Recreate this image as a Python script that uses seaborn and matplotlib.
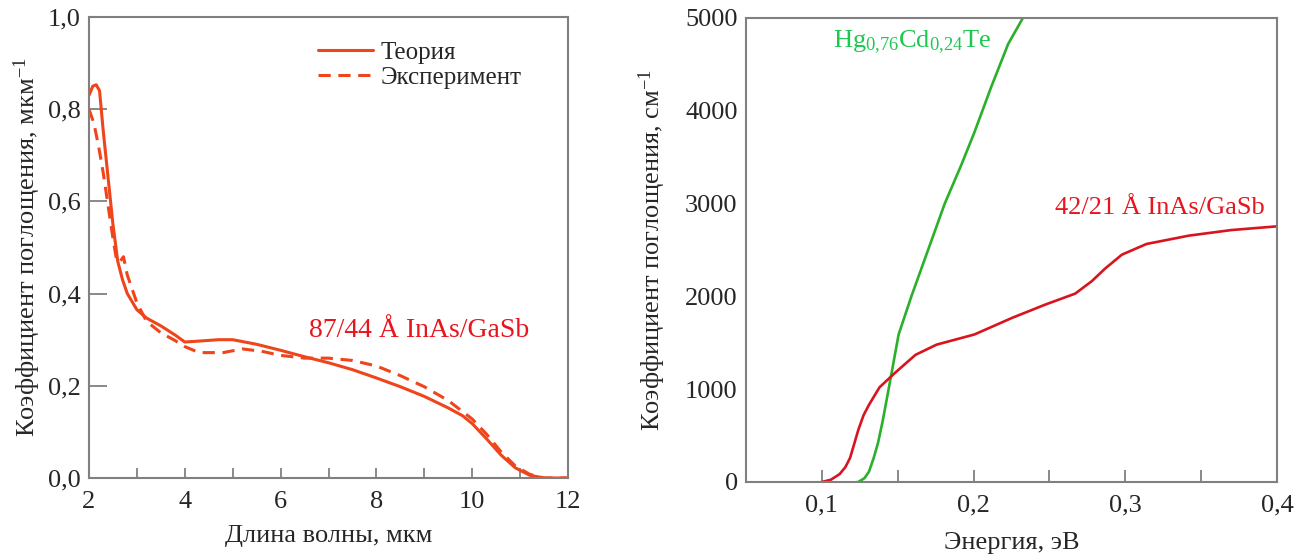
import matplotlib
matplotlib.use("Agg")
import matplotlib.pyplot as plt
import matplotlib.ticker as mticker
import seaborn as sns
import pandas as pd

# ---- Left panel data (wavelength, µm vs absorption, µm^-1) ----
theory_x = [2.0, 2.08, 2.15, 2.22, 2.3, 2.4, 2.5, 2.6, 2.7, 2.8, 3.0, 3.2, 3.5, 3.8, 4.0,
            4.3, 4.7, 5.0, 5.5, 6.0, 6.5, 7.0, 7.5, 8.0, 8.5, 9.0, 9.5, 9.8, 10.0,
            10.3, 10.6, 10.9, 11.2, 11.5, 12.0]
theory_y = [0.83, 0.85, 0.853, 0.84, 0.75, 0.65, 0.55, 0.47, 0.43, 0.40, 0.365, 0.347, 0.33,
            0.31, 0.295, 0.297, 0.30, 0.30, 0.29, 0.277, 0.263, 0.25, 0.235, 0.217,
            0.198, 0.177, 0.152, 0.135, 0.118, 0.085, 0.05, 0.022, 0.006, 0.0, 0.0]

exp_x = [2.0, 2.1, 2.2, 2.3, 2.4, 2.5, 2.58, 2.65, 2.72, 2.8, 3.0, 3.2, 3.5, 3.8, 4.0,
         4.3, 4.8, 5.2, 5.6, 6.0, 6.5, 7.0, 7.5, 8.0, 8.5, 9.0, 9.5, 10.0,
         10.3, 10.6, 10.9, 11.2, 11.5, 12.0]
exp_y = [0.80, 0.77, 0.72, 0.66, 0.59, 0.52, 0.47, 0.47, 0.48, 0.44, 0.38, 0.34, 0.315,
         0.298, 0.285, 0.272, 0.272, 0.28, 0.275, 0.266, 0.26, 0.26, 0.255, 0.243,
         0.222, 0.198, 0.168, 0.128, 0.095, 0.057, 0.026, 0.008, 0.0, 0.0]

# ---- Right panel data (energy, eV vs absorption, cm^-1) ----
hgcdte_x = [0.113, 0.118, 0.124, 0.128, 0.131, 0.134, 0.137, 0.140, 0.144, 0.1506, 0.159,
            0.170, 0.181, 0.192, 0.2006, 0.2117, 0.2228, 0.2325]
hgcdte_y = [-15, -12, 0, 40, 110, 250, 420, 650, 1000, 1590, 2000, 2500, 3000, 3420,
            3770, 4260, 4720, 5000]

inas_x = [0.100, 0.106, 0.1117, 0.1155, 0.1186, 0.1215, 0.124, 0.1275, 0.131, 0.138,
          0.1478, 0.1617, 0.1756, 0.2006, 0.2256, 0.2478, 0.267, 0.278, 0.2867,
          0.2978, 0.314, 0.342, 0.370, 0.400]
inas_y = [0, 25, 85, 160, 260, 420, 560, 720, 830, 1020, 1170, 1370, 1480, 1590,
          1770, 1915, 2030, 2165, 2300, 2450, 2565, 2655, 2715, 2755]

left_xticks = [2, 4, 6, 8, 10, 12]
left_yticks = [0.0, 0.2, 0.4, 0.6, 0.8, 1.0]
right_xticks = [0.1, 0.2, 0.3, 0.4]
right_yticks = [0, 1000, 2000, 3000, 4000, 5000]

sns.set_theme(style="white")
plt.rcParams["font.family"] = ["Liberation Serif", "DejaVu Serif"]
plt.rcParams["mathtext.fontset"] = "custom"
plt.rcParams["mathtext.rm"] = "Liberation Serif"
plt.rcParams["mathtext.it"] = "Liberation Serif:italic"
plt.rcParams["mathtext.bf"] = "Liberation Serif:bold"

FS = 19
ORANGE = "#f0441a"
RED_TXT = "#e8141e"
RED_LINE = "#d8141e"
GREEN_LINE = "#2ab02a"
GREEN_TXT = "#1ec850"
SPINE = "#808080"

fig = plt.figure(figsize=(13.06, 5.57), dpi=100)
W, H = 1306, 557
axL = fig.add_axes([89 / W, 1 - 478 / H, 479 / W, 461 / H])
axR = fig.add_axes([746 / W, 1 - 482 / H, 531 / W, 464 / H])

dfT = pd.DataFrame({"x": theory_x, "y": theory_y})
dfE = pd.DataFrame({"x": exp_x, "y": exp_y})
sns.lineplot(data=dfT, x="x", y="y", ax=axL, color=ORANGE, lw=2.2, label="Теория",
             sort=False, estimator=None)
sns.lineplot(data=dfE, x="x", y="y", ax=axL, color=ORANGE, lw=2.2, label="Эксперимент",
             sort=False, estimator=None)
axL.lines[1].set_dashes([4, 2.5])

axL.set_xlim(2, 12)
axL.set_ylim(0, 1.0)
axL.set_xticks(left_xticks)
axL.set_yticks(left_yticks)
axL.xaxis.set_minor_locator(mticker.MultipleLocator(1))
comma = lambda fmt: mticker.FuncFormatter(lambda v, p: (fmt % v).replace(".", ","))
axL.yaxis.set_major_formatter(comma("%.1f"))
axL.xaxis.set_major_formatter(mticker.FuncFormatter(lambda v, p: "%d" % v))
axL.tick_params(axis="y", which="major", direction="in", length=13, width=1.3,
                color=SPINE, labelsize=FS, pad=6, left=True)
axL.tick_params(axis="x", which="both", direction="in", length=7, width=1.3,
                color=SPINE, labelsize=FS, pad=9, bottom=True)
axL.set_xlabel("Длина волны, мкм", fontsize=FS)
axL.set_ylabel("Коэффициент поглощения, мкм$^{-1}$", fontsize=FS)
axL.yaxis.set_label_coords(-0.097, 0.5)
axL.xaxis.set_label_coords(0.5, -0.102)
leg = axL.legend(loc="upper left", bbox_to_anchor=(0.452, 0.975), frameon=False,
                 fontsize=18, handlelength=2.2, handletextpad=0.3, labelspacing=0.1,
                 borderpad=0)
axL.text(6.6, 0.32, "87/44 Å InAs/GaSb", color=RED_TXT, fontsize=20, va="center", ha="left")

dfH = pd.DataFrame({"x": hgcdte_x, "y": hgcdte_y})
dfI = pd.DataFrame({"x": inas_x, "y": inas_y})
sns.lineplot(data=dfH, x="x", y="y", ax=axR, color=GREEN_LINE, lw=1.9, sort=False,
             estimator=None)
sns.lineplot(data=dfI, x="x", y="y", ax=axR, color=RED_LINE, lw=1.9, sort=False,
             estimator=None)
axR.set_xlim(0.05, 0.4)
axR.set_ylim(0, 5000)
axR.set_xticks(right_xticks)
axR.set_yticks(right_yticks)
axR.xaxis.set_minor_locator(mticker.FixedLocator([0.15, 0.25, 0.35]))
axR.xaxis.set_major_formatter(comma("%.1f"))
axR.yaxis.set_major_formatter(mticker.FuncFormatter(lambda v, p: "%d" % v))
axR.tick_params(axis="x", which="both", direction="in", length=9, width=1.3,
                color=SPINE, labelsize=FS, pad=9, bottom=True)
axR.tick_params(axis="y", which="major", direction="in", length=0, labelsize=FS, pad=6,
                left=True)
axR.set_xlabel("Энергия, эВ", fontsize=FS)
axR.set_ylabel("Коэффициент поглощения, см$^{-1}$", fontsize=FS)
axR.yaxis.set_label_coords(-0.147, 0.5)
axR.xaxis.set_label_coords(0.5, -0.108)
axR.text(0.1075, 4740, r"Hg$_{\mathrm{0{,}76}}$Cd$_{\mathrm{0{,}24}}$Te", color=GREEN_TXT,
         fontsize=FS, va="center", ha="left")
axR.text(0.2535, 2950, "42/21 Å InAs/GaSb", color=RED_TXT, fontsize=FS, va="center",
         ha="left")

for ax in (axL, axR):
    for s in ax.spines.values():
        s.set_color(SPINE)
        s.set_linewidth(1.5)
        s.set_visible(True)
    ax.grid(False)

fig.savefig("out.png", dpi=100)
